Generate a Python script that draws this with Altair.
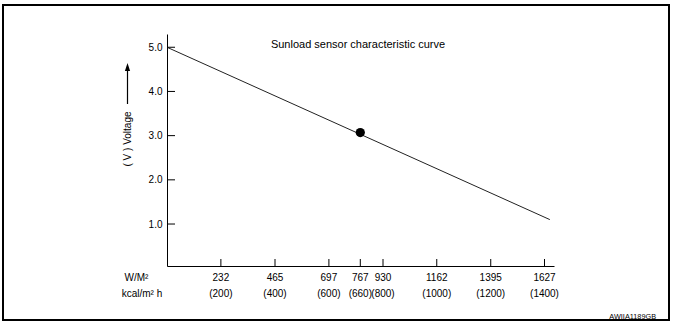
import altair as alt
import pandas as pd

# ---- data ----
w_ticks = [232, 465, 697, 767, 930, 1162, 1395, 1627]
kcal_ticks = ["(200)", "(400)", "(600)", "(660)", "(800)", "(1000)", "(1200)", "(1400)"]
volt_ticks = [1.0, 2.0, 3.0, 4.0, 5.0]
curve_w = [0, 1650]
curve_v = [5.0, 1.1]
point_w = [767]
point_v = [3.07]

title_text = "Sunload sensor characteristic curve"
y_title = "( V )  Voltage"
unit_w = "W/M²"
unit_kcal = "kcal/m² h"
code_text = "AWIIA1189GB"

W, H = 387, 232
FONT = "Liberation Sans"

# reference draws the axis with uneven spacing around 767; reproduce with a piecewise scale
x_scale = alt.Scale(domain=[0, 697, 767, 930, 1668], range=[0, 161.9, 193.3, 216.0, W],
                    nice=False, zero=False)
y_scale = alt.Scale(domain=[0.05, 5.3], nice=False, zero=False)

x_axis = alt.Axis(values=[0], labels=False, ticks=False, grid=False, title=None,
                  domainColor="black", domainWidth=1)
y_axis = alt.Axis(values=volt_ticks, format=".1f", ticks=False, tickSize=0, labelPadding=5,
                  grid=False, title=None, domainColor="black", domainWidth=1,
                  labelFontSize=10, labelFont=FONT, labelColor="black")


def X(field="w"):
    return alt.X(f"{field}:Q", scale=x_scale, axis=x_axis)


def Y(field="v"):
    return alt.Y(f"{field}:Q", scale=y_scale, axis=y_axis)


df_curve = pd.DataFrame({"w": curve_w, "v": curve_v})
df_point = pd.DataFrame({"w": point_w, "v": point_v})
df_vt = pd.DataFrame({"v": volt_ticks})
df_xt = pd.DataFrame({"w": w_ticks, "k": kcal_ticks})
one = pd.DataFrame({"a": [0]})

curve = alt.Chart(df_curve).mark_line(color="#222", strokeWidth=1).encode(x=X(), y=Y())
dot = alt.Chart(df_point).mark_circle(color="black", size=85, opacity=1).encode(x=X(), y=Y())

yticks = alt.Chart(df_vt).mark_rule(color="black", strokeWidth=1).encode(
    y=Y(), x=alt.value(0), x2=alt.value(8))
xticks = alt.Chart(df_xt).mark_rule(color="black", strokeWidth=1).encode(
    x=X(), y=alt.value(H - 7), y2=alt.value(H))

xlab1 = alt.Chart(df_xt).mark_text(font=FONT, fontSize=10, color="black", baseline="middle").encode(
    x=X(), y=alt.value(244), text="w:Q")
xlab2 = alt.Chart(df_xt).mark_text(font=FONT, fontSize=10, color="black", baseline="middle").encode(
    x=X(), y=alt.value(260), text="k:N")

u1 = alt.Chart(one).mark_text(font=FONT, fontSize=10, color="black", baseline="middle",
                              text=unit_w).encode(x=alt.value(-30.5), y=alt.value(244))
u2 = alt.Chart(one).mark_text(font=FONT, fontSize=10, color="black", baseline="middle",
                              text=unit_kcal).encode(x=alt.value(-25), y=alt.value(260))

title = alt.Chart(one).mark_text(font=FONT, fontSize=11, color="black", baseline="middle",
                                 text=title_text).encode(x=alt.value(191), y=alt.value(11))

ytitle = alt.Chart(one).mark_text(font=FONT, fontSize=10, color="black", baseline="middle",
                                  angle=270, text=y_title).encode(x=alt.value(-39), y=alt.value(105))
arrow_line = alt.Chart(one).mark_rule(color="black", strokeWidth=1.2).encode(
    x=alt.value(-39.5), y=alt.value(36), y2=alt.value(70))
arrow_head = alt.Chart(one).mark_point(shape="M0,-1L0.65,1L-0.65,1Z", filled=True, color="black",
                                       size=64, opacity=1).encode(x=alt.value(-39.5), y=alt.value(33))

code = alt.Chart(one).mark_text(font=FONT, fontSize=7.3, color="black", align="right",
                                baseline="middle", text=code_text).encode(
    x=alt.value(489), y=alt.value(283))

frame = alt.Chart(one).mark_rect(filled=False, stroke="black", strokeWidth=2).encode(
    x=alt.value(-164), x2=alt.value(502), y=alt.value(-29), y2=alt.value(286))

chart = alt.layer(
    frame, curve, yticks, xticks, dot, xlab1, xlab2, u1, u2, title, ytitle,
    arrow_line, arrow_head, code
).properties(
    width=W, height=H,
    autosize=alt.AutoSizeParams(type="none"),
    padding={"left": 167, "top": 34, "right": 673 - 167 - W, "bottom": 325 - 34 - H},
    background="white",
).configure_view(stroke=None)

chart.save("out.html", embed_options={"renderer": "svg", "actions": False})
